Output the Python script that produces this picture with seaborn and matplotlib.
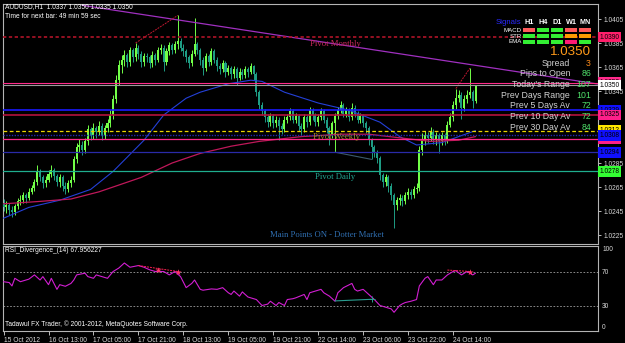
import matplotlib
matplotlib.use("Agg")
import matplotlib.pyplot as plt
from matplotlib.patches import Rectangle
import numpy as np
import pandas as pd
import seaborn as sns

W, H = 625, 343

# ---------------- data ----------------
header_text = "AUDUSD,H1  1.0337 1.0350 1.0335 1.0350"
timer_text = "Time for next bar: 49 min 59 sec"
rsi_title = "RSI_Divergence_(14) 67.956227"
copyright_text = "Tadawul FX Trader, \u00a9 2001-2012, MetaQuotes Software Corp."

first_open = 1.0252
closes = [
    1.0248, 1.0250, 1.0246, 1.0244, 1.0249, 1.0253, 1.0254, 1.0258, 1.0256, 1.0261,
    1.0264, 1.0269, 1.0278, 1.0273, 1.0268, 1.0271, 1.0276, 1.0279, 1.0274, 1.0269,
    1.0273, 1.0266, 1.0263, 1.0268, 1.0271, 1.0288, 1.0298, 1.0300, 1.0296, 1.0303,
    1.0313, 1.0308, 1.0314, 1.0311, 1.0316, 1.0308, 1.0314, 1.0318, 1.0325, 1.0338,
    1.0354, 1.0367, 1.0371, 1.0375, 1.0369, 1.0379, 1.0373, 1.0381, 1.0376, 1.0369,
    1.0374, 1.0373, 1.0368, 1.0375, 1.0371, 1.0379, 1.0381, 1.0369, 1.0378, 1.0383,
    1.0379, 1.0384, 1.0387, 1.0381, 1.0378, 1.0373, 1.0368, 1.0376, 1.0384, 1.0379,
    1.0371, 1.0364, 1.0374, 1.0369, 1.0378, 1.0371, 1.0366, 1.0363, 1.0368, 1.0361,
    1.0364, 1.0359, 1.0363, 1.0356, 1.0361, 1.0358, 1.0363, 1.0361, 1.0366, 1.0359,
    1.0344, 1.0333, 1.0328, 1.0323, 1.0319, 1.0324, 1.0318, 1.0321, 1.0316, 1.0313,
    1.0321, 1.0323, 1.0328, 1.0321, 1.0324, 1.0316, 1.0313, 1.0323, 1.0319, 1.0329,
    1.0325, 1.0319, 1.0323, 1.0328, 1.0321, 1.0314, 1.0308, 1.0318, 1.0324, 1.0329,
    1.0333, 1.0326, 1.0329, 1.0323, 1.0331, 1.0326, 1.0321, 1.0324, 1.0318, 1.0314,
    1.0304, 1.0298, 1.0294, 1.0289, 1.0275, 1.0269, 1.0273, 1.0266, 1.0258, 1.0250,
    1.0254, 1.0256, 1.0253, 1.0258, 1.0261, 1.0258, 1.0263, 1.0264, 1.0296, 1.0304,
    1.0308, 1.0306, 1.0311, 1.0304, 1.0308, 1.0303, 1.0308, 1.0304, 1.0317, 1.0323,
    1.0333, 1.0339, 1.0342, 1.0331, 1.0338, 1.0342, 1.0344, 1.0337, 1.0350,
]
highs = [
    1.0255, 1.0253, 1.0252, 1.0249, 1.0251, 1.0256, 1.0258, 1.0261, 1.0260, 1.0264,
    1.0267, 1.0272, 1.0283, 1.0280, 1.0275, 1.0274, 1.0279, 1.0283, 1.0281, 1.0276,
    1.0276, 1.0275, 1.0269, 1.0271, 1.0274, 1.0291, 1.0302, 1.0305, 1.0303, 1.0306,
    1.0317, 1.0315, 1.0318, 1.0316, 1.0320, 1.0318, 1.0317, 1.0322, 1.0329, 1.0342,
    1.0358, 1.0371, 1.0375, 1.0379, 1.0377, 1.0382, 1.0381, 1.0385, 1.0383, 1.0378,
    1.0377, 1.0377, 1.0375, 1.0378, 1.0377, 1.0382, 1.0384, 1.0383, 1.0381, 1.0386,
    1.0385, 1.0387, 1.0408, 1.0389, 1.0384, 1.0380, 1.0375, 1.0379, 1.0406, 1.0386,
    1.0381, 1.0373, 1.0377, 1.0376, 1.0381, 1.0380, 1.0373, 1.0368, 1.0371, 1.0370,
    1.0367, 1.0366, 1.0366, 1.0365, 1.0364, 1.0363, 1.0366, 1.0365, 1.0368, 1.0367,
    1.0361, 1.0346, 1.0336, 1.0330, 1.0326, 1.0327, 1.0326, 1.0324, 1.0323, 1.0318,
    1.0324, 1.0326, 1.0331, 1.0330, 1.0327, 1.0326, 1.0318, 1.0326, 1.0325, 1.0332,
    1.0331, 1.0327, 1.0326, 1.0331, 1.0330, 1.0323, 1.0316, 1.0320, 1.0327, 1.0332,
    1.0337, 1.0335, 1.0332, 1.0331, 1.0335, 1.0333, 1.0328, 1.0327, 1.0326, 1.0320,
    1.0316, 1.0306, 1.0300, 1.0296, 1.0291, 1.0277, 1.0276, 1.0275, 1.0268, 1.0260,
    1.0257, 1.0259, 1.0258, 1.0261, 1.0264, 1.0263, 1.0266, 1.0268, 1.0299, 1.0310,
    1.0312, 1.0311, 1.0315, 1.0313, 1.0311, 1.0310, 1.0311, 1.0310, 1.0320, 1.0327,
    1.0337, 1.0347, 1.0346, 1.0344, 1.0342, 1.0346, 1.0364, 1.0346, 1.0350,
]
lows = [
    1.0245, 1.0243, 1.0242, 1.0240, 1.0242, 1.0247, 1.0250, 1.0252, 1.0252, 1.0254,
    1.0259, 1.0262, 1.0267, 1.0270, 1.0264, 1.0265, 1.0269, 1.0273, 1.0271, 1.0266,
    1.0265, 1.0262, 1.0259, 1.0261, 1.0265, 1.0269, 1.0285, 1.0294, 1.0292, 1.0293,
    1.0300, 1.0304, 1.0305, 1.0306, 1.0308, 1.0304, 1.0305, 1.0311, 1.0315, 1.0322,
    1.0335, 1.0350, 1.0360, 1.0366, 1.0365, 1.0366, 1.0369, 1.0370, 1.0372, 1.0365,
    1.0366, 1.0369, 1.0364, 1.0365, 1.0367, 1.0369, 1.0376, 1.0362, 1.0367, 1.0375,
    1.0376, 1.0377, 1.0380, 1.0378, 1.0374, 1.0369, 1.0364, 1.0366, 1.0374, 1.0376,
    1.0367, 1.0358, 1.0362, 1.0366, 1.0367, 1.0368, 1.0362, 1.0359, 1.0361, 1.0357,
    1.0358, 1.0355, 1.0356, 1.0350, 1.0354, 1.0355, 1.0356, 1.0357, 1.0359, 1.0354,
    1.0341, 1.0330, 1.0325, 1.0319, 1.0315, 1.0316, 1.0314, 1.0315, 1.0304, 1.0309,
    1.0311, 1.0318, 1.0321, 1.0318, 1.0318, 1.0312, 1.0308, 1.0311, 1.0315, 1.0317,
    1.0321, 1.0316, 1.0316, 1.0321, 1.0318, 1.0310, 1.0300, 1.0306, 1.0294, 1.0322,
    1.0327, 1.0323, 1.0323, 1.0320, 1.0321, 1.0323, 1.0318, 1.0318, 1.0315, 1.0310,
    1.0300, 1.0288, 1.0290, 1.0285, 1.0271, 1.0265, 1.0266, 1.0261, 1.0254, 1.0231,
    1.0246, 1.0250, 1.0249, 1.0251, 1.0255, 1.0255, 1.0256, 1.0260, 1.0262, 1.0292,
    1.0300, 1.0302, 1.0303, 1.0301, 1.0300, 1.0293, 1.0300, 1.0300, 1.0302, 1.0315,
    1.0320, 1.0330, 1.0336, 1.0322, 1.0328, 1.0335, 1.0339, 1.0331, 1.0335,
]

ma_blue_bars = [0, 9, 20, 31, 39, 50, 57, 65, 70, 80, 88, 92, 100, 112, 123, 134, 141, 147, 156, 162, 168]
ma_blue_vals = [1.0239, 1.0248, 1.0254, 1.0263, 1.0278, 1.0304, 1.0325, 1.0339, 1.0344, 1.0351, 1.0354,
                1.0353, 1.0344, 1.0335, 1.0329, 1.0319, 1.0307, 1.0300, 1.0302, 1.0307, 1.0312]
ma_red_bars = [0, 13, 24, 34, 49, 60, 70, 81, 91, 106, 120, 130, 141, 152, 162, 168]
ma_red_vals = [1.0251, 1.0253, 1.0255, 1.0261, 1.0273, 1.0285, 1.0293, 1.0299, 1.0303, 1.0307,
               1.0309, 1.0309, 1.0306, 1.0303, 1.0304, 1.0307]

trend_bars = [28, 211.6]
trend_vals = [1.04164, 1.03508]

price_div_lines = [((47, 1.0385), (62, 1.0408)), ((161, 1.0347), (166, 1.0364))]
price_slate_line = ((118, 1.0294), (131, 1.0288))

level_prices = [1.0390, 1.0352, 1.0350, 1.0329, 1.0325, 1.0312, 1.0305, 1.0308, 1.0294, 1.0278]
level_texts = ["1.0390", "1.0352", "1.0350", "1.0329", "1.0325", "1.0312", "1.0305", "1.0308", "1.0294", "1.0278"]
level_colors = ["#b01428", "#ff2a8a", "#9a9a9a", "#1a1aff", "#b5123c", "#e8d400", "#ff2a8a", "#2626b0", "#2a2aa8", "#1fae8e"]
level_styles = [(0, (2, 1.5)), "-", "-", "-", "-", (0, (3, 2)), "-", (0, (1, 1)), "-", "-"]
level_widths = [1.2, 0.8, 0.8, 1.2, 1.2, 0.9, 0.9, 1.0, 0.9, 0.9]
label_bgs = ["#ff1f6b", "#ff2a8a", "#ffffff", "#1010ff", "#ff1f8a", "#ffe800", "#ff1f8a", "#1010ff", "#1010ff", "#33ff33"]

price_ticks = [1.0225, 1.0245, 1.0265, 1.0285, 1.0305, 1.0325, 1.0345, 1.0365, 1.0385, 1.0405]
# tick labels that the reference leaves visible (others are hidden under the level boxes)
price_tick_texts = ["1.0225", "1.0245", "1.0265", "1.0285", "", "", "1.0345", "1.0365", "1.0385", "1.0405"]

rsi_bars = [0, 2, 3, 4, 6, 9, 11, 13, 14, 16, 17, 19, 20, 22, 24, 25, 26, 29, 30, 32, 33, 36, 37, 39, 41,
            43, 45, 48, 50, 52, 54, 57, 59, 61, 63, 65, 67, 68, 70, 71, 74, 76, 78, 80, 81, 82, 84, 85,
            87, 90, 91, 92, 94, 95, 97, 98, 100, 101, 103, 104, 107, 108, 109, 111, 113, 114, 116, 118,
            119, 121, 124, 125, 126, 128, 130, 132, 134, 136, 138, 139, 141, 142, 143, 145, 147, 148,
            150, 151, 153, 154, 156, 158, 160, 161, 163, 165, 167, 168]
rsi_vals = [58, 57, 53, 62, 58, 61, 66, 60, 64, 54.5, 62, 49, 54.5, 52.6, 56, 60, 66, 68, 64, 62, 66, 63,
            62, 70, 74, 80, 75, 77, 75, 72, 70, 70, 66, 70, 64, 51, 56, 60, 49, 48, 49.5, 49, 51, 45, 43,
            47, 41, 46, 40, 37, 33.5, 30, 31.6, 35, 30, 33.5, 30, 37, 38, 39, 43, 37, 45, 47, 49, 45, 41,
            35, 45, 51, 56, 49, 47, 49, 43, 37, 30, 28, 26, 22, 30, 32, 33.5, 35, 37, 53, 62, 64, 54.5,
            60, 60, 66, 70, 71, 66, 70, 66, 68]
rsi_div_lines = [((48, 77), (62, 70)), ((158, 71.7), (166, 70))]
rsi_stars = [(55, 71.5), (62, 70), (166, 70)]
rsi_teal_line = ((118, 35.4), (131, 37.3))
rsi_levels = [30, 70]
rsi_ticks = [0, 30, 70, 100]

x_label_bars = [0, 16, 32, 48, 64, 80, 96, 112, 128, 144, 160]
x_labels = ["15 Oct 2012", "16 Oct 13:00", "17 Oct 05:00", "17 Oct 21:00", "18 Oct 13:00",
            "19 Oct 05:00", "19 Oct 21:00", "22 Oct 14:00", "23 Oct 06:00", "23 Oct 22:00",
            "24 Oct 14:00"]

signal_cols = ["H1", "H4", "D1", "W1", "MN"]
signal_rows = ["MACD", "STR", "EMA"]
signal_states = [["dn", "up", "up", "dn", "dn"],
                 ["up", "up", "up", "dn", "dn"],
                 ["up", "up", "up", "dn", "up"]]
signal_down_colors = ["#ff5a5a", "#ff9a00", "#ff1a75"]

big_price = "1.0350"
info_labels = ["Spread", "Pips to Open", "Today's Range", "Prev Days Range",
               "Prev 5 Days Av", "Prev 10 Day Av", "Prev 30 Day Av"]
info_values = ["3", "86", "107", "101", "72", "72", "84"]

chart_texts = ["Pivot Monthly", "Pivot Weekly", "Pivot Daily", "Main Points ON - Dotter Market"]
chart_text_pos = [(109, 1.0384), (110, 1.0307), (111, 1.0273), (95, 1.0225)]
chart_text_colors = ["#c8285a", "#a8862a", "#22a894", "#2f6eb0"]

# ---------------- style ----------------
sns.set_style("dark", {"axes.facecolor": "black", "figure.facecolor": "black",
                       "axes.edgecolor": "#b4b4b4", "text.color": "white",
                       "xtick.color": "#d0d0d0", "ytick.color": "#d0d0d0"})
plt.rcParams["font.family"] = ["Liberation Sans", "DejaVu Sans"]

BULL = "#72ff48"
BEAR = "#1e9c84"
TXT = "#d8d8d8"
FS = 4.8


def fx(x):
    return x / W


def fy(y):
    return 1 - y / H


fig = plt.figure(figsize=(W / 100, H / 100), dpi=100)
fig.patch.set_facecolor("black")

ax = fig.add_axes([fx(3), fy(244), fx(598) - fx(3), fy(4) - fy(244)])
ax2 = fig.add_axes([fx(3), fy(331), fx(598) - fx(3), fy(246) - fy(331)])
for a in (ax, ax2):
    a.set_facecolor("black")
    a.set_xlim(-0.2, 211.6)
    for s in a.spines.values():
        s.set_color("#b4b4b4")
        s.set_linewidth(0.8)
ax.set_ylim(1.02175, 1.04175)
ax2.set_ylim(0, 100)

# ---------------- candles ----------------
opens = [first_open] + closes[:-1]
df = pd.DataFrame({"bar": np.arange(len(closes)), "open": opens, "high": highs,
                   "low": lows, "close": closes})
colors = np.where(df["close"] >= df["open"], BULL, BEAR)
ax.vlines(df["bar"], df["low"], df["high"], colors=colors, lw=0.7, zorder=4)
body_lo = np.minimum(df["open"], df["close"])
body_h = np.maximum(np.abs(df["close"] - df["open"]), 0.00004)
ax.bar(df["bar"], body_h, bottom=body_lo, width=0.72, color=colors, edgecolor="none", zorder=5)

# ---------------- moving averages & trend ----------------
sns.lineplot(x=ma_blue_bars, y=ma_blue_vals, ax=ax, color="#2440d8", lw=0.8, legend=False, zorder=6)
sns.lineplot(x=ma_red_bars, y=ma_red_vals, ax=ax, color="#c0185a", lw=0.9, legend=False, zorder=6)
sns.lineplot(x=trend_bars, y=trend_vals, ax=ax, color="#a030c0", lw=0.9, legend=False, zorder=6)
for (x0, y0), (x1, y1) in price_div_lines:
    ax.plot([x0, x1], [y0, y1], color="#c01830", lw=0.7, ls=(0, (2, 1)), zorder=6)
(sx0, sy0), (sx1, sy1) = price_slate_line
ax.plot([sx0, sx1], [sy0, sy1], color="#3c5a6e", lw=0.8, zorder=6)

# ---------------- levels ----------------
for p, c, ls, lw in zip(level_prices, level_colors, level_styles, level_widths):
    ax.axhline(p, color=c, ls=ls, lw=lw, zorder=7)

# price axis
ax.yaxis.tick_right()
ax.set_yticks(price_ticks)
ax.set_yticklabels(price_tick_texts)
ax.tick_params(axis="y", right=True, left=False, colors=TXT, labelsize=FS, length=2.5,
               width=0.6, direction="out", pad=1.5)
ax.tick_params(axis="x", bottom=False, labelbottom=False)
ax.set_xlabel("")
ax.set_ylabel("")

for i, (p, t, bg) in enumerate(zip(level_prices, level_texts, label_bgs)):
    ax.text(1.0025, p, t, transform=ax.get_yaxis_transform(), ha="left", va="center",
            fontsize=FS, color="black", clip_on=False, zorder=20 + i,
            bbox=dict(boxstyle="square,pad=0.28", fc=bg, ec="none"))

# chart texts
for t, (bx, by), c in zip(chart_texts, chart_text_pos, chart_text_colors):
    ax.text(bx, by, t, color=c, fontsize=6.2, family=["Liberation Serif", "DejaVu Serif"],
            ha="left", va="center", zorder=8)

# ---------------- RSI ----------------
for lv in rsi_levels:
    ax2.axhline(lv, color="#a0a0a0", ls=(0, (2, 2)), lw=0.6, zorder=2)
sns.lineplot(x=rsi_bars, y=rsi_vals, ax=ax2, color="#d21ed2", lw=0.8, legend=False, zorder=5)
for (x0, y0), (x1, y1) in rsi_div_lines:
    ax2.plot([x0, x1], [y0, y1], color="#ff2050", lw=0.7, ls=(0, (2, 1)), zorder=6)
ax2.scatter([s[0] for s in rsi_stars], [s[1] for s in rsi_stars], marker="*", s=22,
            color="#ff3366", zorder=7, linewidths=0)
(tx0, ty0), (tx1, ty1) = rsi_teal_line
ax2.plot([tx0, tx1], [ty0, ty1], color="#2a9d8f", lw=0.8, zorder=6)
ax2.scatter([tx1], [ty1], marker="+", s=14, color="#2a9d8f", zorder=7, linewidths=0.7)

ax2.yaxis.tick_right()
ax2.set_yticks(rsi_ticks)
ax2.set_yticklabels([str(v) for v in rsi_ticks])
ax2.tick_params(axis="y", right=True, left=False, colors=TXT, labelsize=FS, length=0, pad=3)
ylabels = ax2.get_yticklabels()
ylabels[0].set_va("bottom")
ylabels[-1].set_va("top")
ax2.set_xticks(x_label_bars)
ax2.set_xticklabels(x_labels, ha="left")
ax2.tick_params(axis="x", bottom=True, colors=TXT, labelsize=FS, length=3, width=0.6,
                direction="out", pad=1.5)
ax2.set_xlabel("")
ax2.set_ylabel("")

# ---------------- figure texts ----------------
fig.text(fx(5), fy(7), header_text, fontsize=FS, color="white", va="center", ha="left")
fig.text(fx(5), fy(16), timer_text, fontsize=FS, color="white", va="center", ha="left")
fig.text(fx(5), fy(251), rsi_title, fontsize=FS, color="white", va="center", ha="left")
fig.text(fx(5), fy(324), copyright_text, fontsize=FS, color="white", va="center", ha="left")

# signals panel
fig.text(fx(521), fy(22), "Signals", fontsize=5.6, color="#2a2aff", ha="right", va="center")
col_x = [523, 537, 551, 565, 579]
row_y = [30, 36, 41.5]
for cx, name in zip(col_x, signal_cols):
    fig.text(fx(cx + 6), fy(22), name, fontsize=5.2, color="white", ha="center", va="center",
             fontweight="bold")
for r, (ry, rname) in enumerate(zip(row_y, signal_rows)):
    fig.text(fx(522), fy(ry), rname, fontsize=4.4, color="white", ha="right", va="center")
    for c, cx in enumerate(col_x):
        col = "#33ee33" if signal_states[r][c] == "up" else signal_down_colors[r]
        fig.patches.append(Rectangle((fx(cx), fy(ry + 2)), fx(12), 4 / H, transform=fig.transFigure,
                                     facecolor=col, edgecolor="none", zorder=30))

fig.text(fx(591), fy(52), big_price, fontsize=9.6, color="#ff9a1a", ha="right", va="center")
for k, (lab, val) in enumerate(zip(info_labels, info_values)):
    yy = 63 + k * 10.75
    fig.text(fx(570), fy(yy), lab, fontsize=6.3, color="#d0d0d0", ha="right", va="center")
    fig.text(fx(591), fy(yy), val, fontsize=6.3, color="#ff8c1a" if k == 0 else "#4fe06a",
             ha="right", va="center")

fig.savefig("out.png", dpi=100, facecolor="black")
